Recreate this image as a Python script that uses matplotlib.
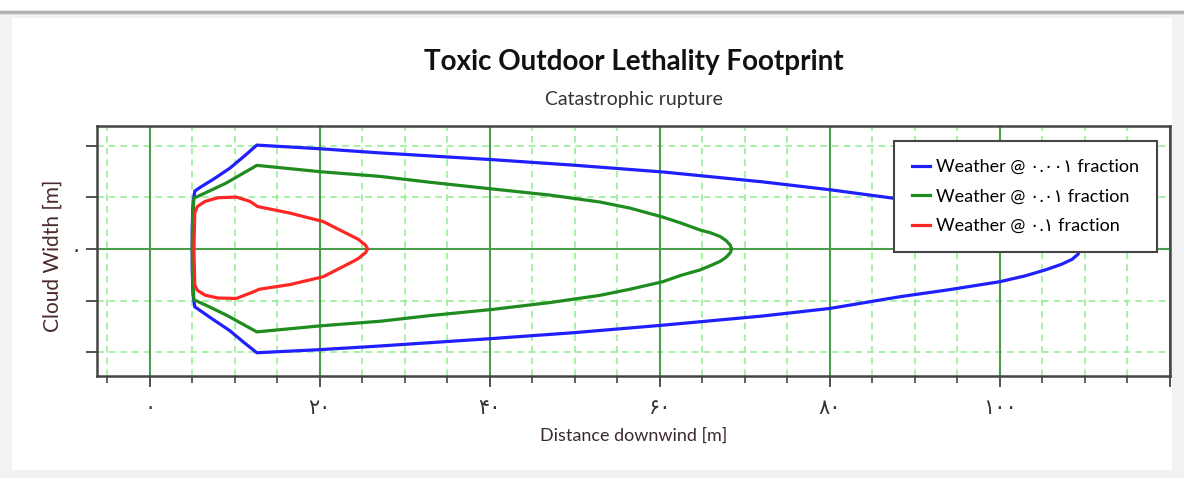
import matplotlib
matplotlib.use("Agg")
import matplotlib.pyplot as plt
from matplotlib.patches import Rectangle
from matplotlib.lines import Line2D

# footprint contours (distance downwind, cloud width) in m
blue_x = [109.4, 109.2, 108.5, 107.2, 105.3, 103, 100, 94, 88.2, 80, 72, 60.35, 50, 40.35, 27, 20,
          12.6, 11.0, 9.4, 7.4, 6.0, 5.3, 5.1, 5.0, 5.0, 5.1, 5.3, 6.0, 7.4, 9.4, 11.0, 12.6,
          20, 27, 40.35, 50, 60.35, 72, 80, 88.2, 94, 100, 103, 105.3, 107.2, 108.5, 109.2, 109.4]
blue_y = [0, 0.5, 1.0, 1.5, 2.04, 2.6, 3.17, 4.0, 4.83, 5.73, 6.5, 7.45, 8.1, 8.64, 9.3, 9.7,
          10.05, 8.9, 7.8, 6.7, 6.0, 5.6, 4.5, 2.0, -2.0, -4.5, -5.6, -6.0, -6.8, -7.9, -9.0, -10.05,
          -9.75, -9.4, -8.67, -8.1, -7.38, -6.5, -5.76, -4.63, -3.95, -3.17, -2.6, -2.04, -1.5, -1.0,
          -0.5, 0]

green_x = [68.4, 68.3, 67.8, 67.1, 66.0, 64.7, 62.5, 60.35, 56.5, 52.9, 47, 40.35, 33, 27.1, 20,
           12.6, 9.0, 7.0, 5.2, 5.05, 5.0, 5.05, 5.2, 7.0, 9.0, 12.6, 20, 27.1, 33, 40.35, 47, 52.9,
           56.5, 60.35, 62.5, 64.7, 66.0, 67.1, 67.8, 68.3, 68.4]
green_y = [0, 0.35, 0.8, 1.2, 1.55, 1.84, 2.5, 3.08, 3.95, 4.55, 5.22, 5.8, 6.45, 7.02, 7.48,
           8.09, 6.38, 5.6, 4.92, 3.0, 0, -3.0, -4.92, -5.6, -6.4, -8.03, -7.45, -7.0, -6.45, -5.85,
           -5.2, -4.5, -3.9, -3.17, -2.55, -2.04, -1.6, -1.2, -0.8, -0.35, 0]

red_x = [25.6, 25.4, 24.5, 23.5, 20.4, 16.5, 12.7, 11.8, 10.2, 8.0, 6.5, 5.6, 5.3, 5.2,
         5.3, 5.6, 6.5, 8.0, 10.2, 12.2, 12.9, 16.5, 20.4, 23.5, 24.5, 25.4, 25.6]
red_y = [0, 0.35, 0.95, 1.36, 2.65, 3.47, 4.1, 4.6, 5.02, 4.95, 4.6, 4.1, 3.5, 0,
         -3.5, -4.0, -4.47, -4.75, -4.79, -4.15, -3.9, -3.45, -2.69, -1.39, -0.95, -0.35, 0]

labels = ["Weather @ ٠.٠٠١ fraction", "Weather @ ٠.٠١ fraction", "Weather @ ٠.١ fraction"]
colors = ["#1f1fff", "#1e8c1e", "#ff2626"]

x_major = [0, 20, 40, 60, 80, 100, 120]
x_labels = ["۰", "۲۰", "۴۰", "۶۰", "۸۰", "۱۰۰", ""]
x_minor = [-5, 5, 10, 15, 25, 30, 35, 45, 50, 55, 65, 70, 75, 85, 90, 95, 105, 110, 115]
y_ticks = [-10, -5, 0, 5, 10]
y_labels = ["", "", "۰", "", ""]

fam = ["Lato", "DejaVu Sans"]
plt.rcParams["font.family"] = fam

fig = plt.figure(figsize=(11.84, 4.78), dpi=100)
fig.patch.set_facecolor("#f2f2f2")
fig.add_artist(Rectangle((12 / 1184, 8 / 478), 1160 / 1184, 452 / 478,
                         transform=fig.transFigure, facecolor="white", edgecolor="none", zorder=0))
fig.add_artist(Line2D([0, 1], [1 - 11.5 / 478, 1 - 11.5 / 478], transform=fig.transFigure,
                      color="#b4b4b4", lw=2.5))
fig.add_artist(Rectangle((0, 1 - 10 / 478), 1, 10 / 478, transform=fig.transFigure,
                         facecolor="white", edgecolor="none", zorder=0))

ax = fig.add_axes([97 / 1184, 102 / 478, 1073 / 1184, 250 / 478])
ax.set_xlim(-6.2, 120)
ax.set_ylim(-12.3, 11.9)

# grid
for v in x_minor:
    ax.axvline(v, color="#98ee98", lw=1.2, ls=(0, (4, 3)), zorder=1)
for v in [-10, -5, 5, 10]:
    ax.axhline(v, color="#98ee98", lw=1.2, ls=(0, (4, 3)), zorder=1)
for v in x_major:
    ax.axvline(v, color="#4a9e4a", lw=1.5, zorder=1)
ax.axhline(0, color="#4a9e4a", lw=1.5, zorder=1)

for xs, ys, c, lab in zip([blue_x, green_x, red_x], [blue_y, green_y, red_y], colors, labels):
    ax.plot(xs, ys, color=c, lw=2.3, label=lab, zorder=3, solid_joinstyle="round")

ax.set_xticks(x_major)
ax.set_xticklabels(x_labels, fontsize=15, color="#333333", family=fam)
ax.set_xticks(x_minor, minor=True)
ax.set_yticks(y_ticks)
ax.set_yticklabels(y_labels, fontsize=15, color="#333333", family=fam)
ax.tick_params(axis="x", which="major", direction="out", length=8, width=1.3,
               color="#444444", pad=8)
ax.tick_params(axis="y", which="major", direction="out", length=8, width=1.3,
               color="#444444", pad=3)
ax.tick_params(axis="x", which="minor", direction="out", length=5, width=1.2, color="#444444")
for s in ax.spines.values():
    s.set_color("#444444")
    s.set_linewidth(1.8)

ax.set_xlabel("Distance downwind [m]", fontsize=13, color="#3a2a30", labelpad=7)
ax.set_ylabel("Cloud Width [m]", fontsize=15, color="#4a2a2a")
ax.yaxis.set_label_coords(-0.032, 0.48)

fig.text(634 / 1184, 1 - 62 / 478, "Toxic Outdoor Lethality Footprint", ha="center", va="center",
         fontsize=20, fontweight="bold", color="#111111")
fig.text(634 / 1184, 1 - 100 / 478, "Catastrophic rupture", ha="center", va="center",
         fontsize=14, color="#333333")

leg = ax.legend(loc="upper right", bbox_to_anchor=(0.988, 0.94), fontsize=13, fancybox=False,
                framealpha=1, edgecolor="#444444", handlelength=1.0, borderpad=1.0,
                labelspacing=0.75, handletextpad=0.35, borderaxespad=0)
leg.get_frame().set_linewidth(1.5)
leg.set_zorder(5)

fig.savefig("out.png", dpi=100)
